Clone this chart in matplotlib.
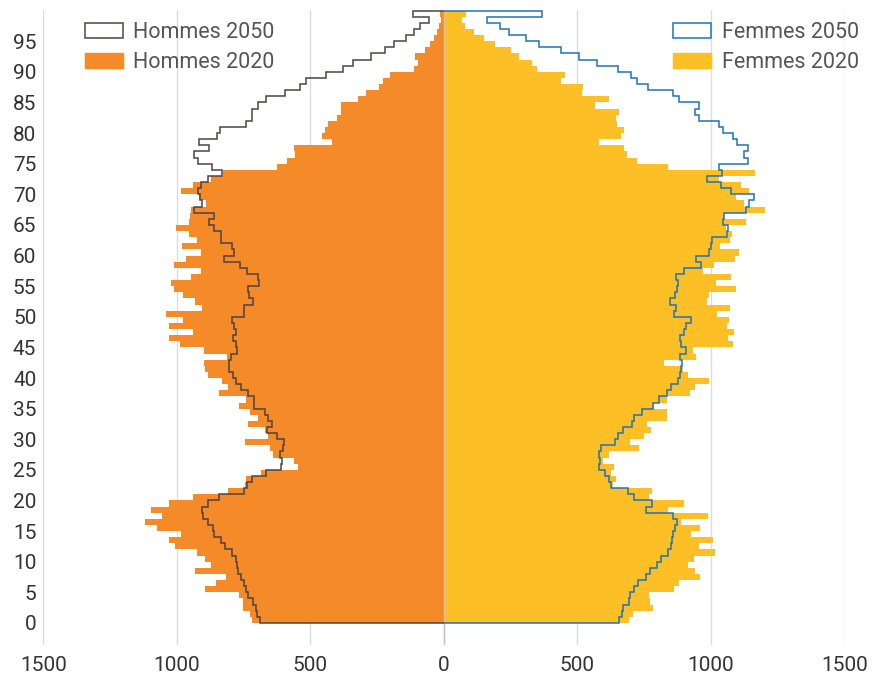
import numpy as np
import matplotlib
matplotlib.use("Agg")
import matplotlib.pyplot as plt
from matplotlib.patches import Patch
from matplotlib.ticker import FuncFormatter

plt.rcParams['font.family'] = ['Roboto', 'DejaVu Sans']

ages = np.arange(0, 100)

hommes_2020 = [717, 727, 752, 752, 768, 895, 854, 817, 933, 873,
               895, 925, 1007, 1030, 985, 1075, 1119, 1056, 1097, 1030,
               940, 809, 745, 742, 686, 547, 562, 641, 652, 745,
               659, 671, 734, 697, 727, 768, 742, 843, 809, 831,
               884, 895, 899, 813, 899, 988, 1030, 940, 1030, 977,
               1041, 906, 932, 977, 1011, 1022, 947, 910, 1011, 966,
               910, 981, 925, 955, 1003, 955, 950, 945, 889, 918,
               985, 940, 873, 828, 625, 587, 556, 561, 420, 456,
               445, 434, 401, 385, 385, 322, 292, 241, 229, 203,
               112, 97, 106, 72, 50, 37, 27, 19, 10, 15]

hommes_2050 = [688, 698, 703, 716, 735, 742, 748, 760, 770, 775,
               780, 795, 818, 835, 860, 863, 885, 903, 905, 883,
               841, 748, 737, 720, 666, 608, 605, 612, 602, 598,
               623, 661, 643, 658, 668, 711, 711, 734, 758, 778,
               791, 803, 803, 798, 773, 779, 788, 779, 785, 793,
               748, 748, 714, 729, 733, 692, 695, 737, 762, 824,
               786, 793, 836, 836, 862, 879, 859, 934, 906, 912,
               922, 908, 885, 830, 867, 919, 934, 880, 915, 848,
               840, 739, 719, 719, 697, 667, 595, 539, 516, 442,
               376, 340, 272, 222, 187, 143, 112, 90, 56, 115]

femmes_2020 = [695, 708, 783, 772, 768, 861, 880, 959, 940, 914,
               936, 1015, 955, 1007, 925, 959, 888, 989, 839, 899,
               768, 779, 635, 646, 627, 638, 597, 620, 732, 698,
               751, 777, 762, 837, 837, 788, 837, 923, 941, 994,
               915, 896, 823, 946, 935, 1084, 1065, 1087, 1061, 1069,
               1024, 1072, 987, 995, 1096, 1021, 1076, 971, 1012, 1091,
               1106, 1036, 1072, 1079, 1058, 1131, 1048, 1203, 1125, 1095,
               1143, 1113, 1031, 1166, 840, 724, 687, 676, 582, 664,
               676, 650, 646, 657, 567, 620, 519, 522, 440, 455,
               350, 332, 283, 253, 193, 152, 112, 81, 70, 85]

femmes_2050 = [657, 667, 673, 692, 696, 714, 729, 757, 773, 798,
               813, 839, 852, 856, 858, 866, 873, 860, 757, 779,
               714, 689, 628, 620, 602, 581, 586, 582, 590, 640,
               652, 673, 704, 714, 743, 782, 807, 835, 851, 879,
               883, 888, 892, 886, 908, 887, 883, 900, 906, 925,
               863, 868, 848, 867, 873, 878, 868, 901, 965, 943,
               992, 1000, 1006, 1062, 1065, 1045, 1049, 1130, 1144, 1160,
               1076, 1040, 985, 1043, 1031, 1140, 1126, 1141, 1097, 1082,
               1045, 1032, 955, 940, 955, 880, 858, 764, 723, 702,
               652, 573, 507, 440, 355, 309, 243, 212, 160, 368]

x_ticks = [-1500, -1000, -500, 0, 500, 1000, 1500]
y_ticks = list(range(0, 100, 5))

c_h20 = '#F58A28'
c_f20 = '#FDBF26'
c_h50 = '#4f4242'
c_f50 = '#1f73b7'

fig = plt.figure(figsize=(8.82, 6.77), dpi=100)
ax = fig.add_axes([43.3 / 882, 1 - 645 / 677, (844.3 - 43.3) / 882, (645 - 10) / 677])

h20 = -np.array(hommes_2020)
h50 = -np.array(hommes_2050)
f20 = np.array(femmes_2020)
f50 = np.array(femmes_2050)

ax.barh(ages, h20, height=1.0, align='edge', color=c_h20, linewidth=0, zorder=2)
ax.barh(ages, f20, height=1.0, align='edge', color=c_f20, linewidth=0, zorder=2)

edges = np.arange(0, 101)
ax.stairs(h50, edges, orientation='horizontal', baseline=0, fill=False,
          color=c_h50, linewidth=1.1, zorder=4)
ax.stairs(f50, edges, orientation='horizontal', baseline=0, fill=False,
          color=c_f50, linewidth=1.1, zorder=4)

ax.axvline(0, color='#c4c4c4', linewidth=1.0, zorder=3)

ax.set_xlim(-1500, 1500)
ax.set_ylim(-3.6, 100.1)
ax.set_xticks(x_ticks)
ax.set_yticks(y_ticks)
ax.xaxis.set_major_formatter(FuncFormatter(lambda v, p: f"{abs(int(v))}"))
ax.grid(axis='x', color='#dcdcdc', linewidth=1.0, zorder=0)
ax.set_axisbelow(True)
for s in ax.spines.values():
    s.set_visible(False)
ax.tick_params(axis='both', length=0, labelsize=15, colors='#333333')
ax.tick_params(axis='y', pad=5)
ax.tick_params(axis='x', pad=8)

h_handles = [Patch(facecolor='white', edgecolor=c_h50, linewidth=1.1),
             Patch(facecolor=c_h20, edgecolor=c_h20)]
f_handles = [Patch(facecolor='white', edgecolor=c_f50, linewidth=1.1),
             Patch(facecolor=c_f20, edgecolor=c_f20)]

common = dict(frameon=False, fontsize=15.5, handlelength=1.75, handleheight=0.72,
              handletextpad=0.5, labelspacing=0.42, borderpad=0, borderaxespad=0)
leg1 = fig.legend(h_handles, ['Hommes 2050', 'Hommes 2020'], loc='upper left',
                  bbox_to_anchor=(85 / 882, 1 - 22 / 677), **common)
for t in leg1.get_texts():
    t.set_color('#555555')
leg2 = fig.legend(f_handles, ['Femmes 2050', 'Femmes 2020'], loc='upper right',
                  bbox_to_anchor=(859 / 882, 1 - 22 / 677), **common)
for t in leg2.get_texts():
    t.set_color('#555555')

fig.savefig('out.png', dpi=100)
